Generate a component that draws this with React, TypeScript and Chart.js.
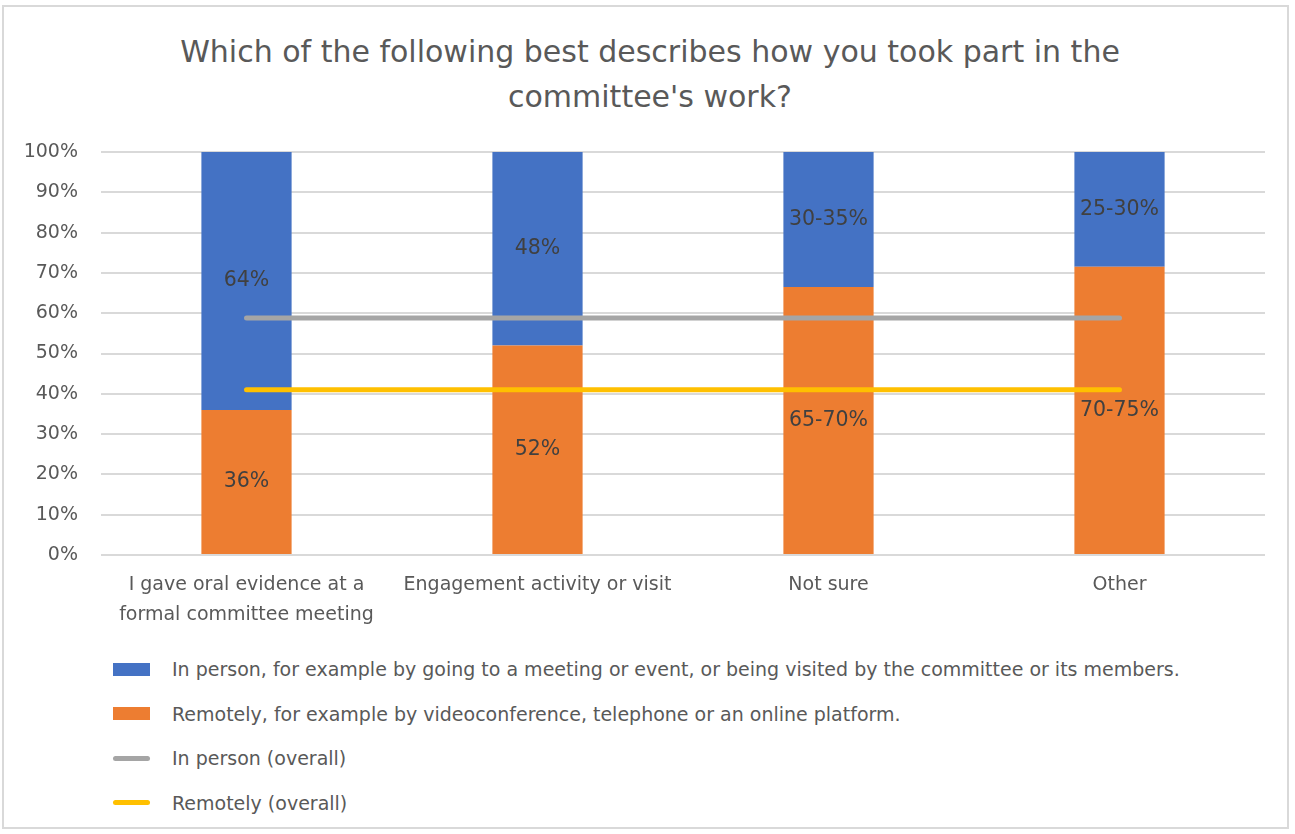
import React, { useEffect, useRef } from "react";
import { Chart, registerables } from "chart.js";

Chart.register(...registerables);

const titleLines = ["Which of the following best describes how you took part in the", "committee's work?"];
const categories: (string | string[])[] = [
  ["I gave oral evidence at a", "formal committee meeting"],
  "Engagement activity or visit",
  "Not sure",
  "Other",
];
const inPersonValues = [64, 48, 33.5, 28.5];
const remoteValues = [36, 52, 66.5, 71.5];
const inPersonLabels = ["64%", "48%", "30-35%", "25-30%"];
const remoteLabels = ["36%", "52%", "65-70%", "70-75%"];
const inPersonOverall = [58.8, 58.8, 58.8, 58.8];
const remoteOverall = [41, 41, 41, 41];
const yTicks = [0, 10, 20, 30, 40, 50, 60, 70, 80, 90, 100];

const seriesNames = [
  "In person, for example by going to a meeting or event, or being visited by the committee or its members.",
  "Remotely, for example by videoconference, telephone or an online platform.",
  "In person (overall)",
  "Remotely (overall)",
];

const BLUE = "#4472c4";
const ORANGE = "#ed7d31";
const GRAY = "#a5a5a5";
const YELLOW = "#ffc000";
const TEXT = "#595959";
const FONT = "'DejaVu Sans', sans-serif";

const segmentLabelPlugin = {
  id: "segmentLabels",
  afterDatasetsDraw(chart: any) {
    const ctx = chart.ctx;
    ctx.save();
    ctx.font = `20.5px ${FONT}`;
    ctx.fillStyle = "#404040";
    ctx.textAlign = "center";
    ctx.textBaseline = "middle";
    chart.data.datasets.forEach((ds: any, di: number) => {
      if (!ds.segLabels) return;
      const meta = chart.getDatasetMeta(di);
      meta.data.forEach((bar: any, i: number) => {
        const y = (bar.y + bar.base) / 2;
        ctx.fillText(ds.segLabels[i], bar.x, y);
      });
    });
    ctx.restore();
  },
};

export default function App() {
  const canvasRef = useRef<HTMLCanvasElement | null>(null);

  useEffect(() => {
    if (!canvasRef.current) return;
    const chart = new Chart(canvasRef.current, {
      type: "bar",
      data: {
        labels: categories,
        datasets: [
          {
            type: "bar",
            label: seriesNames[1],
            data: remoteValues,
            backgroundColor: ORANGE,
            stack: "bars",
            order: 1,
            barPercentage: 0.31,
            categoryPercentage: 1,
            segLabels: remoteLabels,
          } as any,
          {
            type: "bar",
            label: seriesNames[0],
            data: inPersonValues,
            backgroundColor: BLUE,
            stack: "bars",
            order: 1,
            barPercentage: 0.31,
            categoryPercentage: 1,
            segLabels: inPersonLabels,
          } as any,
          {
            type: "line",
            label: seriesNames[2],
            data: inPersonOverall,
            borderColor: GRAY,
            backgroundColor: GRAY,
            borderWidth: 5,
            borderCapStyle: "round",
            pointRadius: 0,
            stack: "l1",
            order: 0,
          } as any,
          {
            type: "line",
            label: seriesNames[3],
            data: remoteOverall,
            borderColor: YELLOW,
            backgroundColor: YELLOW,
            borderWidth: 5,
            borderCapStyle: "round",
            pointRadius: 0,
            stack: "l2",
            order: 0,
          } as any,
        ],
      },
      options: {
        animation: false,
        responsive: true,
        maintainAspectRatio: false,
        layout: { padding: { left: 0, right: 30, top: 152, bottom: 0 } },
        plugins: {
          legend: { display: false },
          tooltip: { enabled: false },
          title: { display: false },
        },
        scales: {
          x: {
            stacked: true,
            offset: true,
            grid: { display: false, drawTicks: false },
            border: { display: false },
            ticks: {
              color: TEXT,
              font: { family: FONT, size: 19, lineHeight: 1.58 },
              padding: 15,
              maxRotation: 0,
              autoSkip: false,
            },
            afterFit(scale: any) {
              scale.height = 85;
            },
          },
          y: {
            stacked: true,
            min: 0,
            max: 100,
            afterBuildTicks(scale: any) {
              scale.ticks = yTicks.map((v) => ({ value: v }));
            },
            grid: { color: "#d9d9d9", lineWidth: 2, drawTicks: false },
            border: { display: false },
            ticks: {
              color: TEXT,
              font: { family: FONT, size: 19 },
              padding: 23,
              callback: (v: any) => `${v}%`,
            },
            afterFit(scale: any) {
              scale.width = 101;
            },
          },
        },
      },
      plugins: [segmentLabelPlugin],
    });
    return () => chart.destroy();
  }, []);

  const legendItems = [
    { name: seriesNames[0], color: BLUE, kind: "box" },
    { name: seriesNames[1], color: ORANGE, kind: "box" },
    { name: seriesNames[2], color: GRAY, kind: "line" },
    { name: seriesNames[3], color: YELLOW, kind: "line" },
  ];

  return (
    <div style={{ position: "absolute", left: 0, top: 0, width: 1295, height: 834, background: "#fff", overflow: "hidden" }}>
      <div
        style={{
          position: "absolute",
          left: 2,
          top: 5,
          width: 1287,
          height: 824,
          border: "2px solid #d9d9d9",
          boxSizing: "border-box",
        }}
      />
      <div
        style={{
          position: "absolute",
          left: 150,
          top: 29,
          width: 1000,
          textAlign: "center",
          fontFamily: FONT,
          fontSize: 30,
          lineHeight: "45px",
          color: TEXT,
          whiteSpace: "nowrap",
        }}
      >
        {titleLines.map((t, i) => (
          <div key={i}>{t}</div>
        ))}
      </div>
      <div style={{ position: "absolute", left: 0, top: 0, width: 1295, height: 640 }}>
        <canvas ref={canvasRef} />
      </div>
      <div style={{ position: "absolute", left: 113, top: 647, fontFamily: FONT, fontSize: 19, color: TEXT }}>
        {legendItems.map((it, i) => (
          <div key={i} style={{ display: "flex", alignItems: "center", height: 44.5, whiteSpace: "nowrap" }}>
            {it.kind === "box" ? (
              <div style={{ width: 37, height: 13, background: it.color, marginRight: 22 }} />
            ) : (
              <div style={{ width: 37, height: 5, background: it.color, borderRadius: 3, marginRight: 22 }} />
            )}
            <span>{it.name}</span>
          </div>
        ))}
      </div>
    </div>
  );
}
